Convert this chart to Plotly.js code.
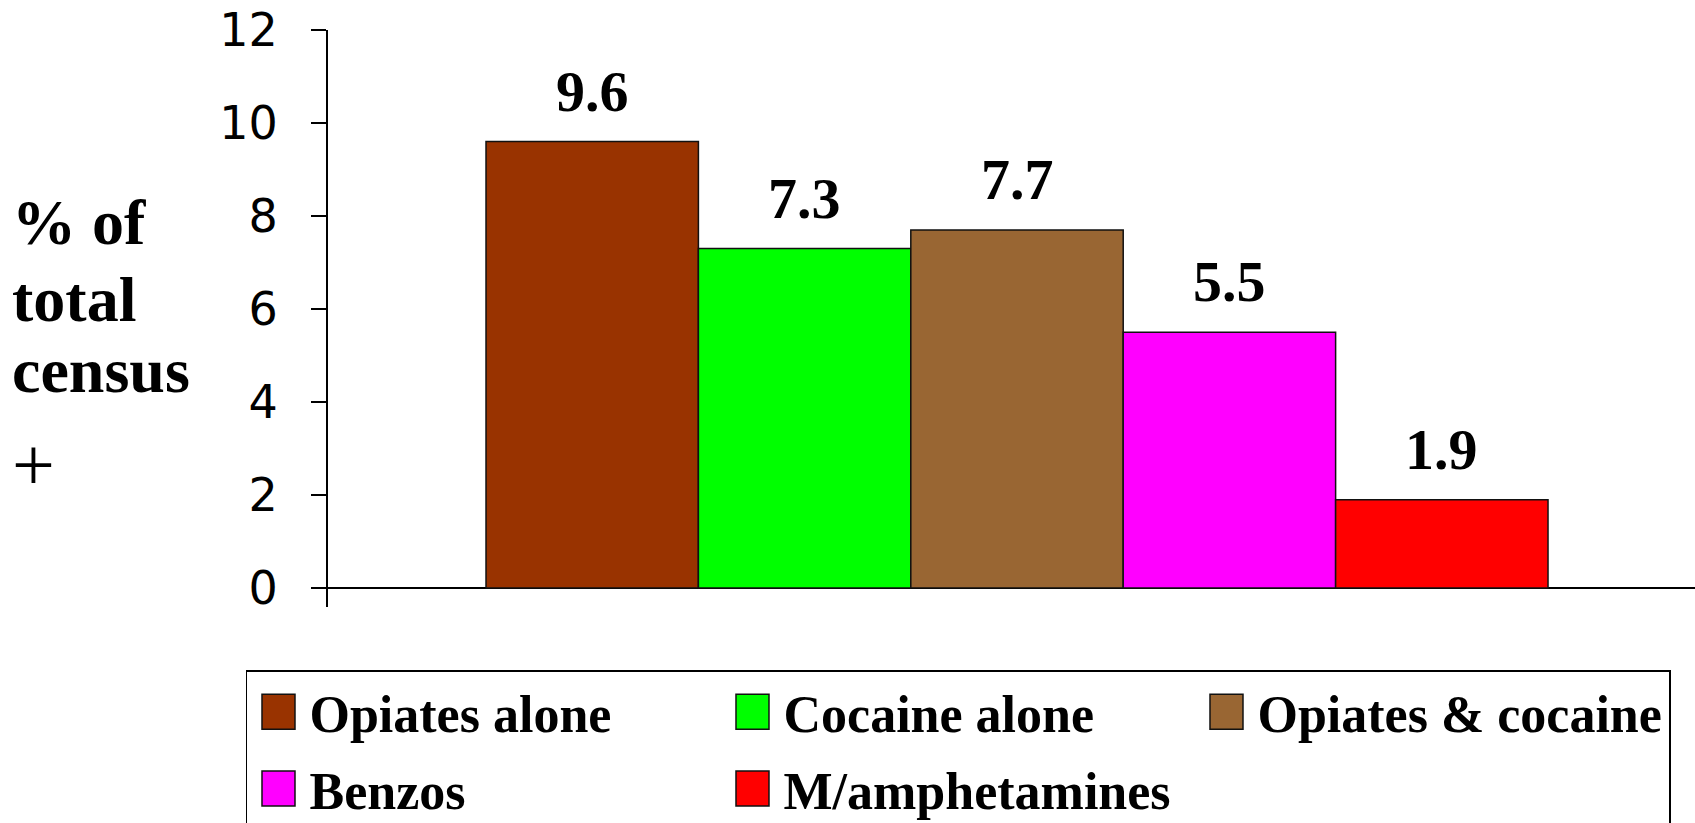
<!DOCTYPE html>
<html>
<head>
<meta charset="utf-8">
<script src="https://cdn.plot.ly/plotly-3.0.1.min.js"></script>
<style>
html, body { margin: 0; padding: 0; background: #ffffff; }
#chart { width: 1695px; height: 823px; }
</style>
</head>
<body>
<div id="chart"></div>
<script>
// ---- data ----
const categories = ['Opiates alone', 'Cocaine alone', 'Opiates & cocaine', 'Benzos', 'M/amphetamines'];
const values = [9.6, 7.3, 7.7, 5.5, 1.9];
const colors = ['#993300', '#00FF00', '#996633', '#FF00FF', '#FF0000'];
const yTickValues = [0, 2, 4, 6, 8, 10, 12];
const yTitleLines = ['% of', 'total', 'census'];
const yTitleMark = '+';

// ---- traces: one bar per category so each gets its own legend entry ----
const traces = categories.map((name, i) => ({
  type: 'bar',
  name: name,
  x: [i],
  y: [values[i]],
  width: 1,
  marker: { color: colors[i], line: { color: '#111111', width: 1.5 } },
  hoverinfo: 'none'
}));

const serif = 'Liberation Serif, Times New Roman, serif';

// value labels above bars
const valueLabels = values.map((v, i) => ({
  x: i, y: v, xref: 'x', yref: 'y',
  text: v.toFixed(1),
  showarrow: false,
  xanchor: 'center', yanchor: 'bottom',
  yshift: 16,
  font: { family: serif, size: 58, color: '#000', weight: 'bold' }
}));

// y-axis title lines (left aligned block)
const titleY = [0.6666, 0.5331, 0.4100];
const titleAnns = yTitleLines.map((t, i) => ({
  x: -0.2326, y: titleY[i], xref: 'paper', yref: 'paper',
  text: t, showarrow: false, xanchor: 'left', yanchor: 'middle',
  font: { family: serif, size: 64, color: '#000', weight: 'bold' }
}));
titleAnns.push({
  x: -0.2326, y: 0.2470, xref: 'paper', yref: 'paper',
  text: yTitleMark, showarrow: false, xanchor: 'left', yanchor: 'middle',
  font: { family: serif, size: 76, color: '#000' }
});

const layout = {
  width: 1695,
  height: 823,
  margin: { l: 328, r: 0, t: 30, b: 216, autoexpand: false },
  paper_bgcolor: '#ffffff',
  plot_bgcolor: '#ffffff',
  barmode: 'overlay',
  showlegend: true,
  xaxis: {
    range: [-1.2439, 5.192],
    showgrid: false, zeroline: false, showline: false,
    showticklabels: false, ticks: ''
  },
  yaxis: {
    range: [-0.4089, 12],
    tickmode: 'array',
    tickvals: yTickValues,
    ticks: 'outside', ticklen: 15, tickwidth: 2, tickcolor: '#000',
    showline: true, linecolor: '#000', linewidth: 2,
    zeroline: true, zerolinecolor: '#000', zerolinewidth: 2,
    showgrid: false,
    ticklabelstandoff: 24,
    tickfont: { family: 'DejaVu Sans, sans-serif', size: 46, color: '#000' }
  },
  legend: {
    orientation: 'h',
    x: -0.05999, xanchor: 'left',
    y: -0.10919, yanchor: 'top',
    itemwidth: 52,
    entrywidth: 407, entrywidthmode: 'pixels',
    traceorder: 'normal',
    font: { family: serif, size: 52, color: '#000', weight: 'bold' },
    bordercolor: '#000', borderwidth: 1.5, bgcolor: '#ffffff'
  },
  annotations: valueLabels.concat(titleAnns)
};

Plotly.newPlot('chart', traces, layout, { staticPlot: true, displayModeBar: false }).then(gd => {
  // enlarge legend swatches to match the reference's big square keys
  gd.querySelectorAll('.legend .legendpoints path').forEach(p => {
    p.setAttribute('d', 'M16.5,17.5H-16.5V-17.5H16.5Z');
  });
  // widen the row spacing of the legend slightly, as in the reference
  const items = Array.from(gd.querySelectorAll('.legend .traces'));
  const parsed = items.map(el => {
    const m = /translate\(\s*([-\d.]+)[ ,]+([-\d.]+)\s*\)/.exec(el.getAttribute('transform') || '');
    return m ? { el, x: +m[1], y: +m[2] } : null;
  }).filter(Boolean);
  const rows = Array.from(new Set(parsed.map(p => Math.round(p.y)))).sort((a, b) => a - b);
  parsed.forEach(p => {
    const r = rows.indexOf(Math.round(p.y));
    p.el.setAttribute('transform', 'translate(' + p.x + ',' + (p.y + r * 6) + ')');
  });
});
</script>
</body>
</html>
